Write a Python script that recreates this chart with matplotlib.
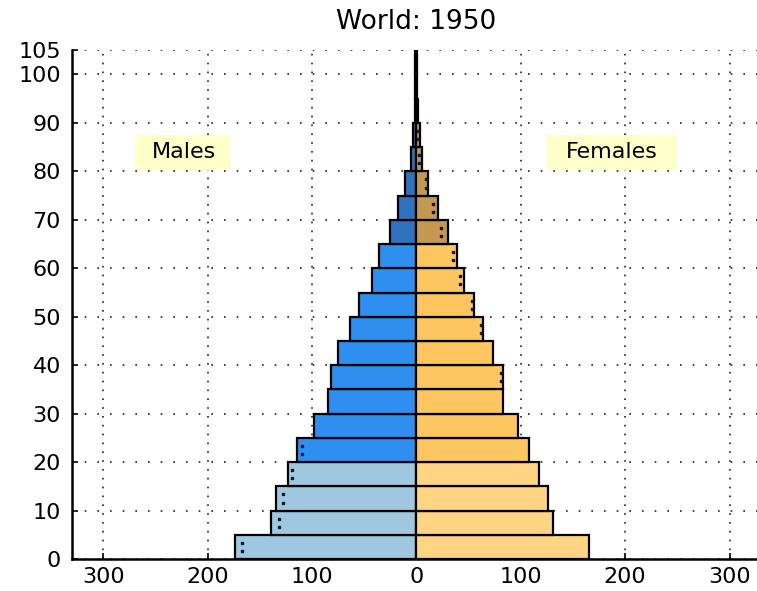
# -*- coding: utf-8 -*-
# Population pyramid for the world in 1950 (millions, by 5-year age group)

import numpy as np
import matplotlib
matplotlib.use('Agg')
import matplotlib.pyplot as plt
from matplotlib.patches import Rectangle

# change defaults for plotting
plt.rcParams['font.family'] = ['DejaVu Sans']
plt.rcParams['xtick.labelsize'] = 16
plt.rcParams['ytick.labelsize'] = 16
plt.rcParams['xtick.direction'] = 'in'
plt.rcParams['ytick.direction'] = 'in'

# data
age_groups = [0, 5, 10, 15, 20, 25, 30, 35, 40, 45, 50,
              55, 60, 65, 70, 75, 80, 85, 90, 95, 100]
males = [174, 139, 135, 123, 114, 98, 85, 82, 75, 64, 55,
         43, 36, 25.4, 18, 11, 5.6, 3.0, 1.2, 1.0, 1.0]
females = [165, 131, 126, 117, 108, 97, 83, 83, 73, 64, 55,
           46, 39, 30.5, 21, 11.3, 5.6, 3.0, 1.2, 1.0, 1.0]
# small dotted marks inside the bars (the other sex, mirrored)
male_marks = [167, 132, 128, 119, 110, None, None, None, None, None, None,
              None, None, None, None, None, None, None, None, None, None]
female_marks = [None, None, None, None, None, None, None, 81, None, 62, 53,
                42, 35, 23.5, 16, 9.6, 2.4, 1.2, None, None, None]
x_ticks = [-300, -200, -100, 0, 100, 200, 300]
y_ticks = [0, 10, 20, 30, 40, 50, 60, 70, 80, 90, 100, 105]
title = 'World: 1950'


def group_colors(ages, young, adult, old):
    cols = []
    for a in ages:
        if a < 20:
            cols.append(young)
        elif a < 65:
            cols.append(adult)
        else:
            cols.append(old)
    return cols


fig = plt.figure(figsize=(7.57, 5.91), dpi=100)
ax = fig.add_axes([0.0951, 0.054, 0.910, 0.861])

height = 5
bottoms = np.array(age_groups, dtype=float)
male_cols = group_colors(age_groups, '#9FC8E0', '#2E8FF0', '#2F73BE')
female_cols = group_colors(age_groups, '#FFD584', '#FDC660', '#C49850')

ax.barh(bottoms, -np.array(males), height=height, align='edge',
        color=male_cols, edgecolor='black', linewidth=1.6, zorder=2)
ax.barh(bottoms, females, height=height, align='edge',
        color=female_cols, edgecolor='black', linewidth=1.6, zorder=2)

# dotted marks, two dots per bar
for i in range(len(age_groups)):
    ys = [age_groups[i] + height/3, age_groups[i] + 2*height/3]
    if male_marks[i] is not None:
        ax.plot([-male_marks[i]]*2, ys, ls='none', marker='s', ms=1.5,
                color='#101828', zorder=3)
    if female_marks[i] is not None:
        ax.plot([female_marks[i]]*2, ys, ls='none', marker='s', ms=1.5,
                color='#101828', zorder=3)

ax.set_xlim(-330, 330)
ax.set_ylim(0, 105)
ax.set_xticks(x_ticks)
ax.set_xticklabels([str(abs(v)) for v in x_ticks])
ax.set_yticks(y_ticks)
ax.tick_params(axis='both', length=4, width=1.2, color='black')
ax.tick_params(axis='x', pad=6)
ax.tick_params(axis='y', pad=8)

# dotted grid, under the bars
ax.set_axisbelow(True)
ax.yaxis.grid(True, color='#222222', linewidth=1.2, linestyle=(0, (1, 6.6)))
ax.xaxis.grid(True, color='#222222', linewidth=1.2, linestyle=(0, (1, 4.3)))

for s in ['top', 'right']:
    ax.spines[s].set_visible(False)
for s in ['left', 'bottom']:
    ax.spines[s].set_linewidth(1.8)
    ax.spines[s].set_color('black')

# pale yellow label boxes
ax.add_patch(Rectangle((-269.5, 80.3), 91, 7.2, facecolor='#FFFFC8',
                       edgecolor='none', zorder=4))
ax.add_patch(Rectangle((125, 80.3), 124.5, 7.2, facecolor='#FFFFC8',
                       edgecolor='none', zorder=4))
ax.text(-223, 83.9, 'Males', fontsize=16, ha='center', va='center', zorder=5)
ax.text(187, 83.9, 'Females', fontsize=16, ha='center', va='center', zorder=5)

ax.set_title(title, fontsize=19, pad=15)

plt.savefig('out.png', dpi=100)
